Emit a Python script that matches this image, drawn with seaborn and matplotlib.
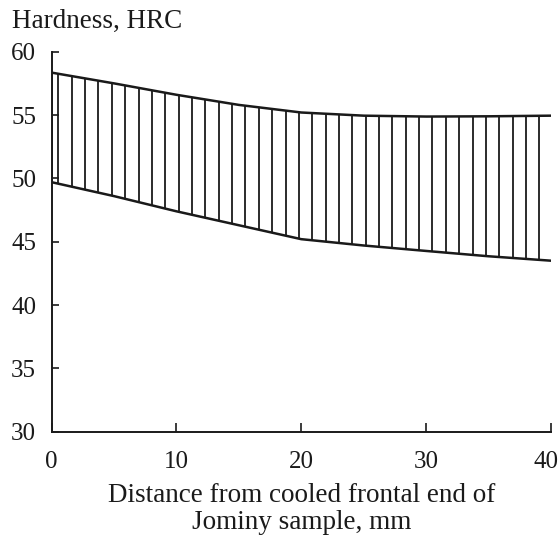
import numpy as np
import pandas as pd
import matplotlib
matplotlib.use("Agg")
import matplotlib.pyplot as plt
import matplotlib.transforms as mtransforms
import seaborn as sns

# Data (Jominy hardenability band)
distance_mm = [0, 5, 10, 15, 20, 25, 30, 35, 40]
hrc_upper = [58.35, 57.5, 56.6, 55.8, 55.2, 54.95, 54.88, 54.9, 54.95]
hrc_lower = [49.7, 48.6, 47.4, 46.3, 45.2, 44.7, 44.27, 43.85, 43.5]
x_ticks = [0, 10, 20, 30, 40]
y_ticks = [30, 35, 40, 45, 50, 55, 60]

sns.set_theme(style="white")
plt.rcParams["font.family"] = ["Liberation Serif", "DejaVu Serif"]

fig = plt.figure(figsize=(5.59, 5.39), dpi=100)
ax = fig.add_axes([51.5 / 559, (539 - 431.7) / 539, (551 - 51.5) / 559, (431.7 - 51.7) / 539])

df = pd.DataFrame({"x": distance_mm + distance_mm,
                   "y": hrc_upper + hrc_lower,
                   "band": ["upper"] * len(distance_mm) + ["lower"] * len(distance_mm)})
sns.lineplot(data=df, x="x", y="y", units="band", estimator=None,
             color="#1a1a1a", lw=1.8, ax=ax, legend=False)

# vertical hatching between the curves
hx = np.arange(0.55, 40, 1.07)
ax.vlines(hx, np.interp(hx, distance_mm, hrc_lower), np.interp(hx, distance_mm, hrc_upper),
          color="#1a1a1a", lw=1.3)
ax.vlines([0], [hrc_lower[0]], [hrc_upper[0]], color="#1a1a1a", lw=1.3)

ax.set_xlim(0, 40)
ax.set_ylim(30, 60)
ax.set_xticks(x_ticks)
ax.set_yticks(y_ticks)
ax.tick_params(axis="both", direction="in", labelsize=18, colors="#1a1a1a", width=1.2,
               bottom=True, left=True)
ax.tick_params(axis="x", length=6.5, pad=14)
ax.tick_params(axis="y", length=5, pad=11)
# keep the last x tick label inside the figure, as in the reference
last = ax.get_xticklabels()[-1]
last.set_transform(last.get_transform() + mtransforms.ScaledTranslation(-5 / 100, 0, fig.dpi_scale_trans))
for s in ["top", "right"]:
    ax.spines[s].set_visible(False)
for s in ["left", "bottom"]:
    ax.spines[s].set_color("#1a1a1a")
    ax.spines[s].set_linewidth(1.4)
ax.set_xlabel("Distance from cooled frontal end of\nJominy sample, mm", fontsize=19.5,
              color="#1a1a1a", labelpad=7, linespacing=1.12)
ax.set_ylabel("")
fig.text(12 / 559, 1 - 28 / 539, "Hardness, HRC", fontsize=19.5, color="#1a1a1a",
         ha="left", va="baseline")

fig.savefig("out.png", dpi=100)
